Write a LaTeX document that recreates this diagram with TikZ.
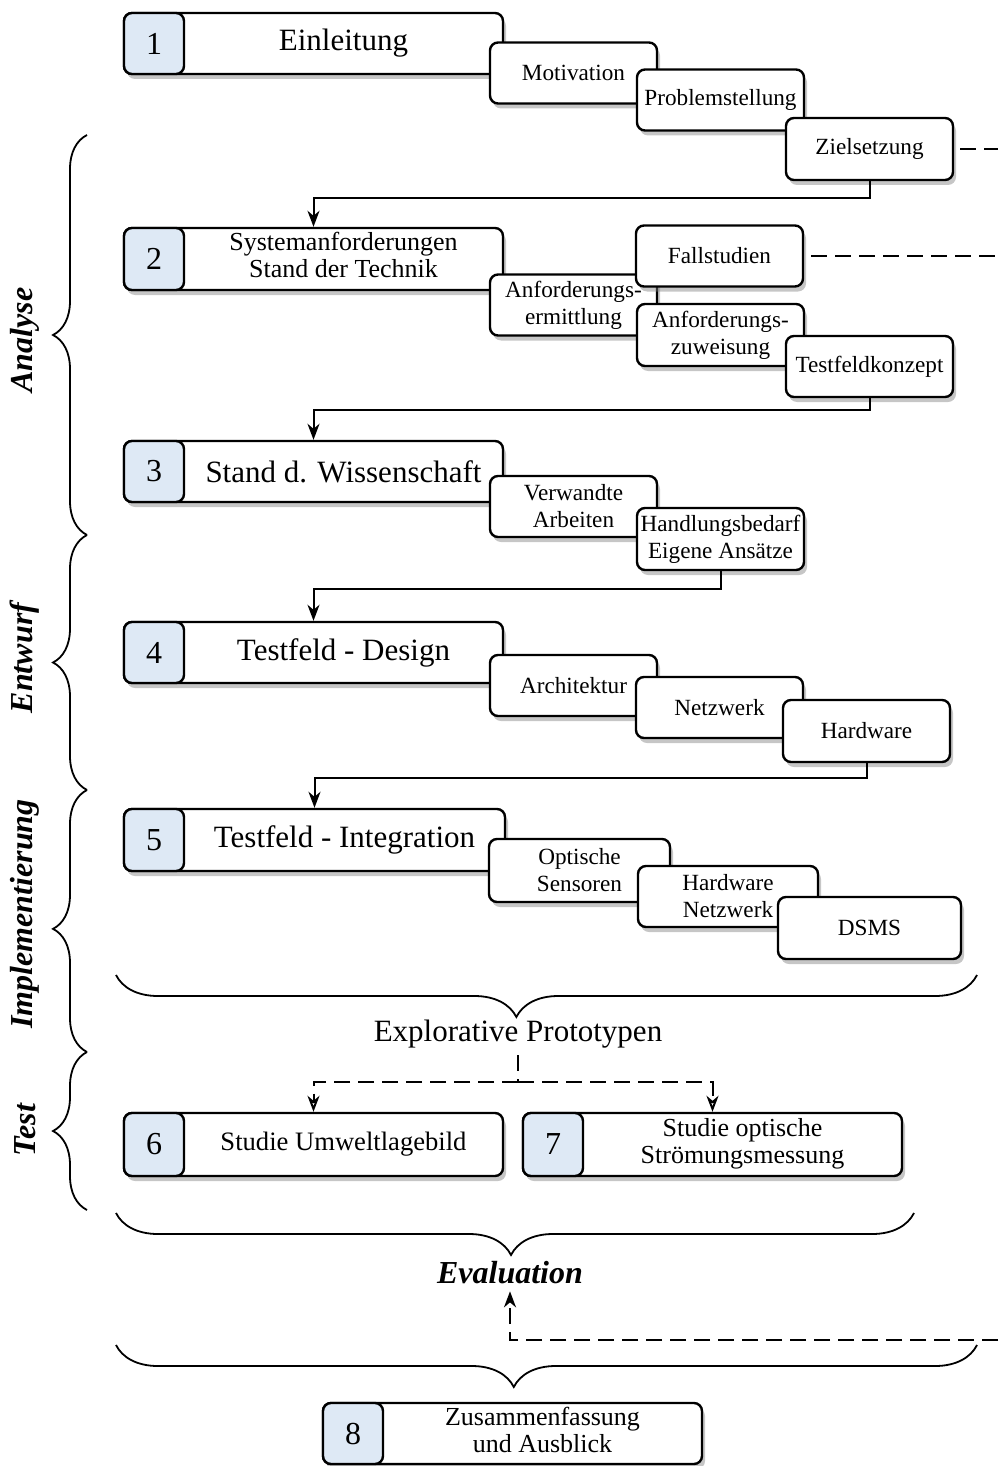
\documentclass[tikz,border=0pt]{standalone}
\usepackage{fontspec}
\setmainfont{Liberation Serif}
\usetikzlibrary{arrows.meta, shadows, decorations.pathreplacing, positioning}
\definecolor{nummerblau}{RGB}{222,233,245}
\tikzset{
        kasten/.style={draw, line width=1.2pt, rounded corners=4pt, fill=white, minimum height=30.5pt,
            inner ysep=1pt, drop shadow={opacity=0.45, shadow xshift=1.5pt, shadow yshift=-2.5pt}}, % common look of all boxes
        kapitel/.style={kasten, minimum width=189.5pt, font=\fontsize{15.5}{17}\selectfont,
            execute at begin node={\hspace*{30pt}}}, % chapter box, text sits right of the number
        nummer/.style={draw, line width=1.2pt, rounded corners=4pt, fill=nummerblau, minimum width=30pt,
            minimum height=30.5pt, font=\fontsize{16}{17}\selectfont}, % number at the left end of a chapter
        schritt/.style={kasten, minimum width=83.5pt, inner xsep=1pt, align=center,
            font=\fontsize{11.6}{13.5}\selectfont}, % sub steps of a chapter
        pfeil/.style={-{Stealth[length=8pt, width=6pt, inset=2.5pt]}, line width=1pt}, % solid connector
        strich/.style={dash pattern=on 8pt off 4pt, line width=1pt}, % dashed connector
        klammer/.style={decorate, line width=0.9pt}, % braces
        phase/.style={rotate=90, font=\fontsize{16}{17}\selectfont\bfseries\itshape}, % phase names on the left
    }
\begin{document}
\begin{tikzpicture}[x=0.5pt, y=-0.5pt]
    \useasboundingbox (0,0) rectangle (998,1466);
    % Kapitel 1
    \node[kapitel] (k1) at (313.5,43.5) {Einleitung};
    \node[nummer] (n1) at (154,43.5) {1};
    \node[schritt] (motiv) at (573.5,73) {Motivation};
    \node[schritt] (problem) at (720.5,100) {Problemstellung};
    \node[schritt, minimum height=31pt] (ziel) at (869.5,149) {Zielsetzung};
    % Kapitel 2
    \node[kapitel, minimum height=31pt, font=\fontsize{13}{13.5}\selectfont] (k2) at (313.5,259)
        {\begin{tabular}{@{}c@{}}Systemanforderungen\\Stand der Technik\end{tabular}};
    \node[nummer, minimum height=31pt] (n2) at (154,259) {2};
    \node[schritt] (ermittlung) at (573.5,305) {Anforderungs-\\ermittlung};
    \node[schritt] (fall) at (719.5,256) {Fallstudien};
    \node[schritt, minimum height=31pt] (zuweisung) at (720.5,335) {Anforderungs-\\zuweisung};
    \node[schritt] (konzept) at (869.5,366.5) {Testfeldkonzept};
    % Kapitel 3
    \node[kapitel] (k3) at (313.5,471.5) {Stand d. Wissenschaft};
    \node[nummer] (n3) at (154,471.5) {3};
    \node[schritt] (verwandt) at (573.5,506.5) {Verwandte\\Arbeiten};
    \node[schritt, minimum height=31pt] (bedarf) at (720.5,539) {Handlungsbedarf\\Eigene\ Ansätze};
    % Kapitel 4
    \node[kapitel] (k4) at (313.5,652.5) {Testfeld - Design};
    \node[nummer] (n4) at (154,652.5) {4};
    \node[schritt] (architektur) at (573.5,685.5) {Architektur};
    \node[schritt] (netz) at (719.5,707.5) {Netzwerk};
    \node[schritt, minimum height=31pt] (hard) at (866.5,731) {Hardware};
    % Kapitel 5
    \node[kapitel, minimum width=190.5pt, minimum height=31pt] (k5) at (314.5,840) {Testfeld - Integration};
    \node[nummer, minimum height=31pt] (n5) at (154,840) {5};
    \node[schritt, minimum width=90.5pt, minimum height=31.5pt] (optik) at (579.5,870.5) {Optische\\Sensoren};
    \node[schritt, minimum width=90pt] (hwnetz) at (728,896.5) {Hardware\\Netzwerk};
    \node[schritt, minimum width=91.5pt, minimum height=31pt] (dsms) at (869.5,928) {DSMS};
    % Studien
    \node[font=\fontsize{15.5}{17}\selectfont] (explo) at (518,1034) {Explorative Prototypen};
    \node[kapitel, minimum height=31.5pt, font=\fontsize{13.3}{13.5}\selectfont] (k6) at (313.5,1144.5) {Studie Umweltlagebild};
    \node[nummer, minimum height=31.5pt] (n6) at (154,1144.5) {6};
    \node[kapitel, minimum height=31.5pt, font=\fontsize{13}{13.5}\selectfont] (k7) at (712.5,1144.5)
        {\begin{tabular}{@{}c@{}}Studie optische\\Strömungsmessung\end{tabular}};
    \node[nummer, minimum height=31.5pt] (n7) at (553,1144.5) {7};
    \node[font=\fontsize{16}{17}\selectfont\bfseries\itshape] (eval) at (510,1273) {Evaluation};
    % Kapitel 8
    \node[kapitel, font=\fontsize{13}{13.5}\selectfont] (k8) at (512.5,1433.5)
        {\begin{tabular}{@{}c@{}}Zusammenfassung\\und Ausblick\end{tabular}};
    \node[nummer] (n8) at (353,1433.5) {8};
    % Phasen
    \node[phase] (analyse) at (25,340) {Analyse};
    \node[phase] (entwurf) at (25,658) {Entwurf};
    \node[phase] (impl) at (25,914) {Implementierung};
    \node[phase] (test) at (25,1130) {Test};
    \draw[klammer, decoration={brace, amplitude=17pt}] (87,535) -- (87,135);
    \draw[klammer, decoration={brace, amplitude=17pt}] (87,790) -- (87,535);
    \draw[klammer, decoration={brace, amplitude=17pt, aspect=0.47}] (87,1052) -- (87,790);
    \draw[klammer, decoration={brace, amplitude=17pt}] (87,1210) -- (87,1052);
    \draw[klammer, decoration={brace, amplitude=21pt, aspect=0.535}] (977,975) -- (116,975);
    \draw[klammer, decoration={brace, amplitude=21pt, aspect=0.505}] (914,1213) -- (116,1213);
    \draw[klammer, decoration={brace, amplitude=21pt, aspect=0.538}] (977,1345) -- (116,1345);
    % Verbindungen
    \coordinate (rand1) at (998,149);
    \coordinate (rand2) at (998,256);
    \coordinate (rand3) at (998,1340);
    \coordinate (ecke) at (510,1340);
    \coordinate (gabel) at (518,1082);
    \draw[pfeil] (ziel.south) -- ++(0,17) -| (k2.north);
    \draw[pfeil] (konzept.south) -- ++(0,12) -| (k3.north);
    \draw[pfeil] (bedarf.south) -- ++(0,18) -| (k4.north);
    \draw[pfeil] (hard.south) -- ++(0,15) -| (k5.north);
    \draw[strich, shorten <=3pt] (ziel) -- (rand1);
    \draw[strich, shorten <=3.5pt] (fall) -- (rand2);
    \draw[strich] (explo) -- (gabel);
    \draw[strich, -{Stealth[open, length=8pt, width=6pt, inset=2.5pt]}] (gabel) -| (k6.north);
    \draw[strich, -{Stealth[open, length=8pt, width=6pt, inset=2.5pt]}] (gabel) -| (k7.north);
    \draw[pfeil, strich] (rand3) -- (ecke) -- (eval);
\end{tikzpicture}
\end{document}
